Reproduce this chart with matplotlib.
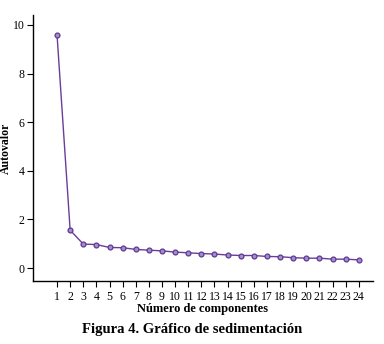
import matplotlib
matplotlib.use('Agg')
import matplotlib.pyplot as plt

# Datos del gráfico de sedimentación
componentes = list(range(1, 25))
autovalores = [9.59, 1.56, 0.99, 0.97, 0.85, 0.84, 0.77, 0.74, 0.71, 0.66,
               0.63, 0.60, 0.58, 0.54, 0.52, 0.52, 0.48, 0.47, 0.43, 0.41,
               0.41, 0.37, 0.37, 0.34]

plt.rcParams['font.family'] = ['Liberation Serif', 'DejaVu Serif']

fig = plt.figure(figsize=(3.84, 3.44), dpi=100)
ax = fig.add_axes([0.086, 0.183, 0.885, 0.773])

ax.plot(componentes, autovalores, color='#6a3d9a', linewidth=1,
        marker='o', markersize=3.5, markerfacecolor='#a58bd3',
        markeredgecolor='#5b3a8c', markeredgewidth=0.9)

ax.set_xlim(-0.83, 25.07)
ax.set_ylim(-0.53, 10.4)
ax.set_xticks(componentes)
ax.set_yticks([0, 2, 4, 6, 8, 10])
ax.tick_params(labelsize=8.5, length=4, width=0.8, pad=2)
ax.tick_params(axis='x', pad=3)
for s in ['top', 'right']:
    ax.spines[s].set_visible(False)
ax.spines['left'].set_linewidth(1)
ax.spines['bottom'].set_linewidth(1)

ax.set_xlabel('Número de componentes', fontsize=9, fontweight='bold', labelpad=0)
ax.set_ylabel('Autovalor', fontsize=8.5, fontweight='bold')
ax.yaxis.set_label_coords(-0.062, 0.5)

fig.text(0.5, 0.041, 'Figura 4. Gráfico de sedimentación', ha='center',
         va='center', fontsize=10.5, fontweight='bold')

fig.savefig('out.png', dpi=100)
